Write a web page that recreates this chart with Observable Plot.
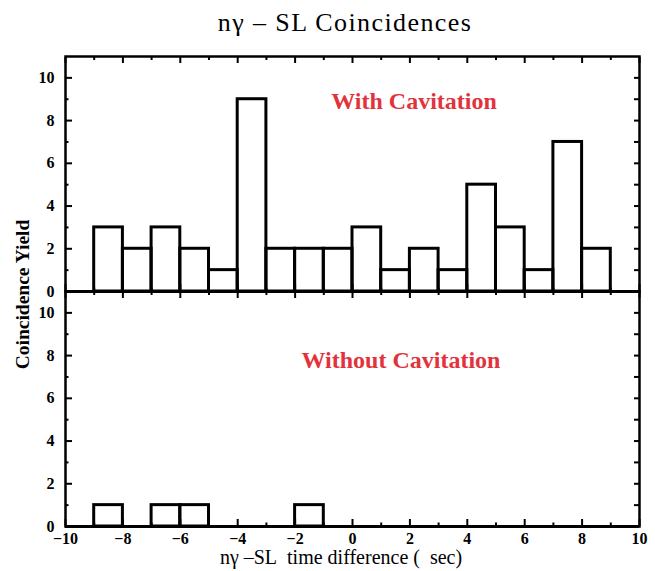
<!DOCTYPE html>
<html><head><meta charset="utf-8">
<script src="https://cdn.jsdelivr.net/npm/d3@7"></script>
<script src="https://cdn.jsdelivr.net/npm/@observablehq/plot@0.6"></script>
<style>
body{margin:0;background:#fff;}
#title{height:40px;line-height:46px;font-family:"Liberation Serif","Times New Roman",serif;font-size:26px;letter-spacing:1.4px;text-align:center;padding-left:35px;width:620px;white-space:nowrap;color:#000;}
</style></head><body>
<div id="title">nγ – SL Coincidences</div>
<div id="chart"></div>
<script>
// bin left edges (bins are 1 unit wide)
const binLeft = [-9,-8,-7,-6,-5,-4,-3,-2,-1,0,1,2,3,4,5,6,7,8];
const withCavitation    = [3,2,3,2,1,9,2,2,2,3,1,2,1,5,3,1,7,2];
const withoutCavitation = [1,0,1,1,0,0,0,1,0,0,0,0,0,0,0,0,0,0];
const panels = ["With Cavitation", "Without Cavitation"];
const xMajorTicks = [-10,-8,-6,-4,-2,0,2,4,6,8,10];
const xMinorTicks = [-9,-7,-5,-3,-1,1,3,5,7,9];
const yMajorTicks = [0,2,4,6,8,10];
const yMinorTicks = [1,3,5,7,9];
const yAllTicks = [1,2,3,4,5,6,7,8,9,10];
const yLabel = "Coincidence Yield";
const xLabel = "nγ\u00a0–SL\u00a0\u00a0time difference (\u00a0\u00a0sec)";

const rows = [];
binLeft.forEach((b, i) => {
  rows.push({panel: panels[0], x1: b, x2: b + 1, count: withCavitation[i]});
  rows.push({panel: panels[1], x1: b, x2: b + 1, count: withoutCavitation[i]});
});

const red = "#e2333c";
const tickCommon = {facetAnchor: null, text: null, strokeWidth: 2, label: null};

const chart = Plot.plot({
  width: 655,
  height: 531,
  marginTop: 16,
  marginBottom: 45,
  marginLeft: 65,
  marginRight: 16,
  style: {fontFamily: "'Liberation Serif','Times New Roman',serif", background: "white", color: "black", overflow: "visible"},
  x: {domain: [-10, 10]},
  y: {domain: [0, 11]},
  fy: {domain: panels, padding: 0, axis: null},
  marks: [
    Plot.ruleY([0], {stroke: "black", strokeWidth: 3}),
    Plot.rectY(rows, {fy: "panel", x1: "x1", x2: "x2", y: "count", fill: "none", stroke: "black", strokeWidth: 3}),
    Plot.frame({stroke: "black", strokeWidth: 2.5}),
    // left ticks
    Plot.axisY({...tickCommon, anchor: "left", ticks: yMajorTicks, tickSize: -7}),
    Plot.axisY({...tickCommon, anchor: "left", ticks: yMinorTicks, tickSize: -3.5}),
    // right ticks
    Plot.axisY({...tickCommon, anchor: "right", ticks: yAllTicks, tickSize: -6}),
    // top ticks
    Plot.axisX({...tickCommon, anchor: "top", ticks: xMajorTicks, tickSize: -6}),
    Plot.axisX({...tickCommon, anchor: "top", ticks: xMinorTicks, tickSize: -3}),
    // bottom ticks
    Plot.axisX({...tickCommon, anchor: "bottom", ticks: xMajorTicks, tickSize: -7}),
    Plot.axisX({...tickCommon, anchor: "bottom", ticks: xMinorTicks, tickSize: -3.5}),
    // tick labels
    Plot.axisY({anchor: "left", ticks: yMajorTicks, tickSize: 0, tickPadding: 11, fontSize: 16, fontWeight: "bold", label: null}),
    Plot.axisX({anchor: "bottom", ticks: xMajorTicks, tickSize: 0, tickPadding: 6, fontSize: 16, fontWeight: "bold", label: null}),
    // panel labels
    Plot.text([panels[0]], {fy: d => d, text: d => d, frameAnchor: "top", lineAnchor: "middle", dx: 61.5, dy: 45, fill: red, fontSize: 24, fontWeight: "bold"}),
    Plot.text([panels[1]], {fy: d => d, text: d => d, frameAnchor: "top", lineAnchor: "middle", dx: 48.5, dy: 69, fill: red, fontSize: 24, fontWeight: "bold"}),
    // axis titles
    Plot.text([panels[0]], {fy: d => d, text: () => yLabel, frameAnchor: "bottom-left", lineAnchor: "middle", dx: -43, dy: 3, rotate: -90, textAnchor: "middle", fontSize: 19.5, fontWeight: "bold"}),
    Plot.text([panels[1]], {fy: d => d, text: () => xLabel, frameAnchor: "bottom", lineAnchor: "middle", dx: -11.5, dy: 31.5, fontSize: 20})
  ]
});
document.getElementById("chart").appendChild(chart);
</script>
</body></html>
